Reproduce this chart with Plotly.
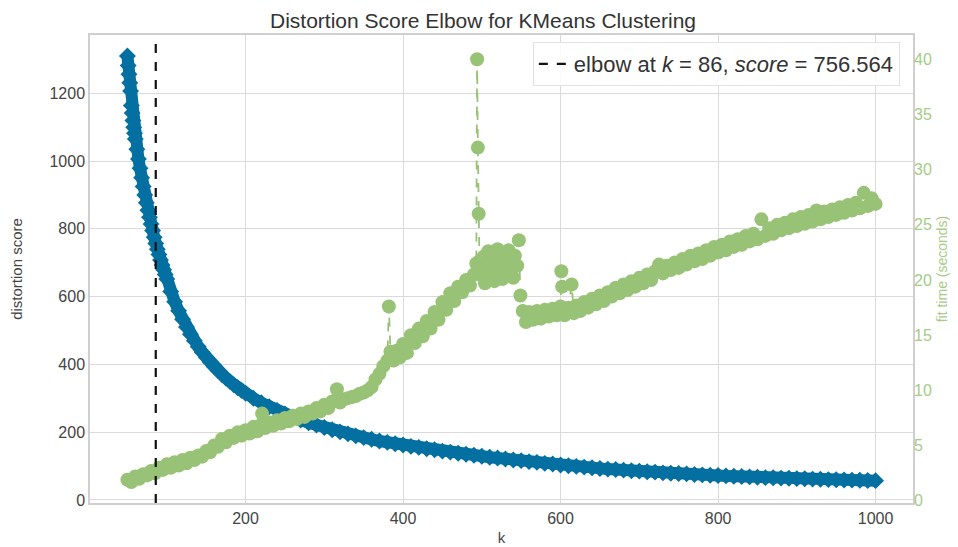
import plotly.graph_objects as go

# ---- data ----
dist_k = [50, 51, 52, 53, 54, 55, 56, 57, 58, 59, 60,
          62, 64, 66, 68, 70, 72, 74, 76, 78, 80, 82, 84, 86, 88, 90, 92, 94, 96, 98, 100,
          105, 110, 115, 120, 125, 130, 135, 140, 145, 150, 155, 160, 165, 170, 175, 180, 185, 190, 195, 200,
          210, 220, 230, 240, 250, 260, 270, 280, 290, 300, 310, 320, 330, 340, 350, 360, 370, 380, 390, 400,
          410, 420, 430, 440, 450, 460, 470, 480, 490, 500, 510, 520, 530, 540, 550, 560, 570, 580, 590, 600,
          610, 620, 630, 640, 650, 660, 670, 680, 690, 700, 710, 720, 730, 740, 750, 760, 770, 780, 790, 800,
          810, 820, 830, 840, 850, 860, 870, 880, 890, 900, 910, 920, 930, 940, 950, 960, 970, 980, 990, 1000]
dist_score = [1310, 1282, 1256, 1231, 1207, 1164, 1142, 1120, 1100, 1082, 1065,
              1035, 1006, 979, 951, 925, 900, 877, 855, 834, 814, 795, 775, 757, 740, 724, 708, 693, 679, 665, 652,
              615, 585, 558, 533, 510, 489, 470, 452, 436, 421, 407, 394, 382, 370, 360, 350, 340, 331, 323, 315,
              300, 287, 275, 264, 254, 245, 236, 228, 221, 214, 207, 201, 195, 189, 184, 179, 174, 170, 166, 162,
              158, 155, 151, 148, 144, 141, 138, 135, 132, 129, 126, 124, 121, 118, 116, 113, 111, 108, 106, 103,
              101, 99, 97, 95, 93, 91, 90, 88, 86, 85, 83, 82, 80, 79, 78, 77, 75, 74, 73, 72,
              71, 70, 69, 68, 67, 66, 65.5, 64.5, 64, 63, 62.5, 61.5, 61, 60, 59.5, 59, 58.5, 58, 57.5, 57]

fit_k = [50, 55, 60, 65, 70, 75, 80, 85, 90, 95, 100, 105, 110, 115, 120, 125, 130, 135, 140, 145,
         150, 155, 160, 165, 170, 175, 180, 185, 190, 195, 200, 205, 210, 215, 220, 221, 225, 230, 235, 240,
         245, 250, 255, 260, 265, 270, 275, 280, 285, 290, 295, 300, 305, 310, 316, 320, 325, 330, 335, 340,
         345, 350, 355, 360, 365, 370, 375, 380, 382, 384, 388, 392, 396, 400, 405, 410, 415, 420, 425, 430,
         435, 440, 445, 450, 455, 460, 465, 470, 475, 480, 485, 490, 493, 494, 495, 496, 497, 500, 502, 504,
         506, 508, 510, 512, 514, 516, 518, 520, 522, 524, 526, 528, 530, 532, 534, 536, 538, 540, 542, 545,
         547, 549, 552, 556, 560, 565, 570, 575, 580, 585,
         590, 595, 600, 601, 602, 605, 610, 614, 617, 620, 625, 630, 635, 640, 645, 650, 655, 660, 665, 670,
         675, 680, 685, 690, 695, 700, 705, 710, 715, 720, 725, 730, 735, 740, 745, 750, 755, 760, 765, 770,
         775, 780, 785, 790, 795, 800, 805, 810, 815, 820, 825, 830, 835, 840, 845, 850, 855, 860, 865, 870,
         875, 880, 885, 890, 895, 900, 905, 910, 915, 920, 925, 930, 935, 940, 945, 950, 955, 960, 965, 970,
         975, 980, 985, 990, 995, 1000]
fit_time = [1.9, 1.7, 2.2, 2.0, 2.4, 2.3, 2.7, 2.5, 3.0, 2.8, 3.3, 3.0, 3.5, 3.2, 3.7, 3.4, 3.9, 3.7, 4.1, 4.0,
            4.5, 4.4, 5.0, 4.9, 5.6, 5.3, 5.9, 5.7, 6.2, 5.9, 6.4, 6.1, 6.7, 6.3, 6.9, 7.9, 6.6, 7.1, 6.8, 7.3,
            7.0, 7.5, 7.2, 7.7, 7.4, 7.9, 7.6, 8.1, 7.9, 8.4, 8.1, 8.7, 8.4, 9.0, 10.1, 8.9, 9.2, 9.3, 9.4, 9.5,
            9.7, 9.8, 10.0, 10.3, 11.0, 11.5, 12.2, 12.7, 17.6, 13.5, 12.7, 13.6, 13.0, 14.2, 13.4, 15.0, 14.3, 15.6, 14.9, 16.3,
            15.6, 17.1, 16.4, 18.0, 17.3, 18.8, 18.1, 19.4, 18.9, 20.0, 19.5, 20.5, 21.5, 40.0, 32.0, 26.0, 21.7, 20.4, 22.1, 19.7,
            21.0, 22.6, 20.2, 21.7, 22.5, 19.9, 21.2, 22.8, 20.5, 21.9, 20.1, 22.4, 21.1, 20.4, 22.7, 20.8, 21.9, 20.2, 22.2, 21.3,
            23.6, 18.6, 17.2, 16.2, 17.1, 16.4, 17.2, 16.5, 17.3, 16.7,
            17.4, 16.8, 17.6, 20.8, 19.4, 16.8, 17.5, 19.6, 17.0, 17.7, 17.2, 18.0, 17.5, 18.3, 17.8, 18.6, 18.1, 18.9, 18.5, 19.3,
            18.8, 19.6, 19.1, 19.9, 19.4, 20.2, 19.7, 20.5, 20.0, 20.8, 21.4, 20.6, 21.3, 20.9, 21.6, 21.1, 21.9, 21.4, 22.2, 21.7,
            22.4, 21.9, 22.7, 22.2, 23.0, 22.5, 23.2, 22.7, 23.5, 23.0, 23.7, 23.2, 24.0, 23.5, 24.2, 23.7, 25.5, 24.0, 24.7, 24.2,
            25.0, 24.5, 25.2, 24.7, 25.5, 24.9, 25.7, 25.1, 25.9, 25.3, 26.3, 25.5, 26.2, 25.7, 26.4, 25.9, 26.6, 26.1, 26.8, 26.3,
            27.0, 26.5, 27.9, 26.7, 27.4, 26.9]

elbow_k = 86
elbow_score = 756.564

x_ticks = [200, 400, 600, 800, 1000]
y_ticks = [0, 200, 400, 600, 800, 1000, 1200]
y2_ticks = [0, 5, 10, 15, 20, 25, 30, 35, 40]

BLUE = "#0470A1"
GREEN = "#98C276"
GREEN_TXT = "#A6CB88"
GRID = "#DADADA"
FONT = "Liberation Sans, Arial, sans-serif"

fig = go.Figure()

fig.add_trace(go.Scatter(
    x=dist_k, y=dist_score, mode="lines+markers",
    line=dict(color=BLUE, width=12),
    marker=dict(symbol="diamond", size=13, color=BLUE, line=dict(width=0)),
    showlegend=False, hoverinfo="x+y"))

fig.add_trace(go.Scatter(
    x=fit_k, y=fit_time, mode="lines+markers", yaxis="y2",
    line=dict(color=GREEN, width=1.8, dash="dash"),
    marker=dict(symbol="circle", size=14, color=GREEN, line=dict(width=0)),
    showlegend=False, hoverinfo="x+y"))

fig.add_shape(type="line", xref="x", yref="paper", x0=elbow_k, x1=elbow_k, y0=0, y1=1,
              line=dict(color="#111111", width=2.2, dash="dash"),
              showlegend=True,
              name=f"elbow at <i>k</i> = {elbow_k}, <i>score</i> = {elbow_score}")

# the page body has an 8px margin, so the figure is 8px smaller than the window
fig.update_layout(
    width=950, height=539,
    margin=dict(l=82, r=45, t=27, b=44),
    paper_bgcolor="white", plot_bgcolor="white",
    font=dict(family=FONT, color="#444444", size=16),
    title=dict(text="Distortion Score Elbow for KMeans Clustering",
               x=0.5, xanchor="center", y=0.976, yanchor="middle",
               font=dict(size=21, color="#333333", family=FONT)),
    legend=dict(x=0.984, y=0.985, xanchor="right", yanchor="top",
                bgcolor="rgba(255,255,255,0.85)", bordercolor="#E2E2E2", borderwidth=1,
                font=dict(size=22, color="#333333", family=FONT)),
    xaxis=dict(range=[2.5, 1047.5], tickvals=x_ticks, showgrid=True, gridcolor=GRID, gridwidth=1.2,
               showline=True, linecolor="#CFCFCF", linewidth=1.5, mirror=True, zeroline=False,
               ticks="", tickfont=dict(size=16, color="#444444"), automargin=False,
               title=dict(text="k", standoff=7, font=dict(size=15, color="#444444"))),
    yaxis=dict(range=[-9, 1372], tickvals=y_ticks, showgrid=True, gridcolor=GRID, gridwidth=1.2,
               showline=True, linecolor="#CFCFCF", linewidth=1.5, mirror=True, zeroline=False,
               ticks="", tickfont=dict(size=16, color="#444444"), automargin=False,
               title=dict(text="distortion score", standoff=28, font=dict(size=15, color="#444444"))),
    yaxis2=dict(overlaying="y", side="right", range=[-0.2, 42.2], tickvals=y2_ticks,
                showgrid=False, zeroline=False, showline=False, ticks="", automargin=False,
                tickfont=dict(size=16, color=GREEN_TXT),
                title=dict(text="fit time (seconds)", standoff=6, font=dict(size=14, color=GREEN_TXT))),
)

fig.write_html("out.html")
